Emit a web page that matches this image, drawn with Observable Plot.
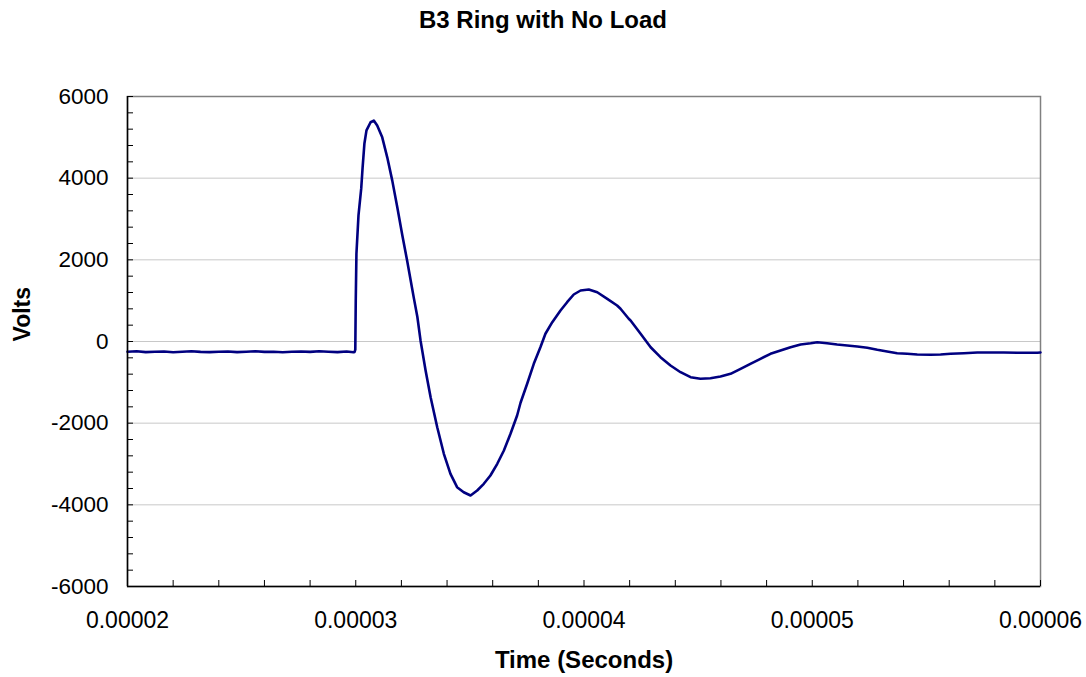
<!DOCTYPE html>
<html><head><meta charset="utf-8">
<script src="https://cdn.jsdelivr.net/npm/d3@7"></script>
<script src="https://cdn.jsdelivr.net/npm/@observablehq/plot@0.6"></script>
<style>
body{margin:0;background:#fff;font-family:Arial,"Liberation Sans",sans-serif;}
#title{height:40px;line-height:40px;text-align:center;font-weight:bold;font-size:24px;color:#000;}
#chart svg{display:block;}
</style></head><body>
<div id="title">B3 Ring with No Load</div>
<div id="chart"></div>
<script>
// Time in seconds
const timeSec = [
  20.0e-6, 20.4e-6, 20.8e-6, 21.2e-6, 21.6e-6, 22.0e-6, 22.4e-6, 22.8e-6, 23.2e-6, 23.6e-6,
  24.0e-6, 24.4e-6, 24.8e-6, 25.2e-6, 25.6e-6, 26.0e-6, 26.4e-6, 26.8e-6, 27.2e-6, 27.6e-6,
  28.0e-6, 28.4e-6, 28.8e-6, 29.2e-6, 29.6e-6, 29.90e-6, 29.95e-6, 29.98e-6, 30.00e-6, 30.03e-6,
  30.12e-6, 30.24e-6, 30.30e-6, 30.38e-6, 30.47e-6, 30.65e-6, 30.79e-6, 30.94e-6, 31.16e-6, 31.38e-6,
  31.60e-6, 31.82e-6, 32.04e-6, 32.25e-6, 32.47e-6, 32.55e-6, 32.70e-6, 32.84e-6, 33.06e-6, 33.28e-6,
  33.57e-6, 33.86e-6, 34.15e-6, 34.44e-6, 34.73e-6, 35.03e-6, 35.32e-6, 35.61e-6, 35.90e-6, 36.20e-6,
  36.49e-6, 36.78e-6, 37.07e-6, 37.22e-6, 37.51e-6, 37.80e-6, 38.09e-6, 38.31e-6, 38.61e-6, 38.97e-6,
  39.26e-6, 39.55e-6, 39.85e-6, 40.21e-6, 40.58e-6, 41.02e-6, 41.45e-6, 41.60e-6, 41.96e-6, 42.04e-6,
  42.48e-6, 42.92e-6, 43.35e-6, 43.79e-6, 44.23e-6, 44.67e-6, 45.10e-6, 45.54e-6, 45.98e-6, 46.42e-6,
  46.86e-6, 47.29e-6, 47.73e-6, 48.17e-6, 48.61e-6, 49.05e-6, 49.49e-6, 49.93e-6, 50.22e-6, 50.65e-6,
  51.09e-6, 51.53e-6, 51.97e-6, 52.41e-6, 52.85e-6, 53.28e-6, 53.72e-6, 54.16e-6, 54.60e-6, 55.18e-6,
  55.62e-6, 56.06e-6, 56.64e-6, 57.23e-6, 57.81e-6, 58.39e-6, 58.98e-6, 59.86e-6, 60.0e-6
];
// Volts
const volts = [
  -250, -240, -260, -250, -245, -265, -250, -240, -255, -260,
  -250, -245, -260, -250, -240, -255, -250, -265, -250, -245,
  -255, -240, -250, -260, -245, -265, -255, -200, 1000, 2150,
  3090, 3750, 4260, 4850, 5170, 5370, 5410, 5290, 5000, 4510,
  3940, 3290, 2600, 1984, 1300, 1050, 600, 20, -710, -1364,
  -2099, -2750, -3240, -3568, -3691, -3771, -3649, -3485, -3282, -2995,
  -2669, -2260, -1812, -1500, -1036, -546, -140, 189, 473, 759,
  962, 1151, 1249, 1273, 1207, 1046, 882, 801, 556, 514,
  189, -140, -384, -588, -752, -874, -913, -899, -857, -791,
  -669, -546, -424, -301, -220, -140, -73, -42, -17, -42,
  -73, -98, -122, -154, -203, -245, -287, -301, -318, -326,
  -318, -301, -287, -269, -269, -269, -277, -277, -270
];
const yTicks = [-6000, -4000, -2000, 0, 2000, 4000, 6000];
const yGrid = [-4000, -2000, 0, 2000, 4000];
const yMinorTicks = [-6000, -5600, -5200, -4800, -4400, -4000, -3600, -3200, -2800, -2400, -2000,
  -1600, -1200, -800, -400, 0, 400, 800, 1200, 1600, 2000, 2400, 2800, 3200, 3600, 4000,
  4400, 4800, 5200, 5600, 6000];
const xTicks = [0.00002, 0.00003, 0.00004, 0.00005, 0.00006];
const xMinorTicks = [20e-6, 22e-6, 24e-6, 26e-6, 28e-6, 30e-6, 32e-6, 34e-6, 36e-6, 38e-6, 40e-6,
  42e-6, 44e-6, 46e-6, 48e-6, 50e-6, 52e-6, 54e-6, 56e-6, 58e-6, 60e-6];

const data = timeSec.map((t, i) => ({t, v: volts[i]}));
const W = 1086, H = 637, mL = 127, mR = 46, mT = 56, mB = 91;
const plotW = W - mL - mR, plotH = H - mT - mB;
const font = 'Arial, "Liberation Sans", sans-serif';

const chart = Plot.plot({
  width: W, height: H, marginLeft: mL, marginRight: mR, marginTop: mT, marginBottom: mB,
  style: {fontFamily: font, fontSize: "23px", color: "#000", background: "#fff"},
  x: {domain: [0.00002, 0.00006]},
  y: {domain: [-6000, 6000]},
  marks: [
    Plot.ruleY(yGrid, {stroke: "#c8c8c8", strokeWidth: 1}),
    Plot.frame({stroke: "#808080", strokeWidth: 1.5}),
    Plot.line(data, {x: "t", y: "v", stroke: "#000080", strokeWidth: 2.6}),
    Plot.ruleX([0.00002], {stroke: "#000", strokeWidth: 1.5}),
    Plot.ruleY([-6000], {stroke: "#000", strokeWidth: 1.5}),
    Plot.tickX(xMinorTicks, {x: d => d, insetTop: plotH - 6, stroke: "#000", strokeWidth: 1}),
    Plot.tickY(yMinorTicks, {y: d => d, insetRight: plotW - 6, stroke: "#000", strokeWidth: 1}),
    Plot.axisX(xTicks, {tickSize: 0, tickPadding: 25, tickFormat: d => d.toFixed(5), fontSize: 23, label: null}),
    Plot.axisY(yTicks, {tickSize: 0, tickPadding: 19, tickFormat: d => String(d), fontSize: 22.5, label: null}),
    Plot.text(["Volts"], {text: d => d, frameAnchor: "left", dx: -105, rotate: -90, fontWeight: "bold", fontSize: 23}),
    Plot.text(["Time (Seconds)"], {text: d => d, frameAnchor: "bottom", dy: 81, fontWeight: "bold", fontSize: 24})
  ]
});
document.getElementById("chart").appendChild(chart);
</script>
</body></html>
